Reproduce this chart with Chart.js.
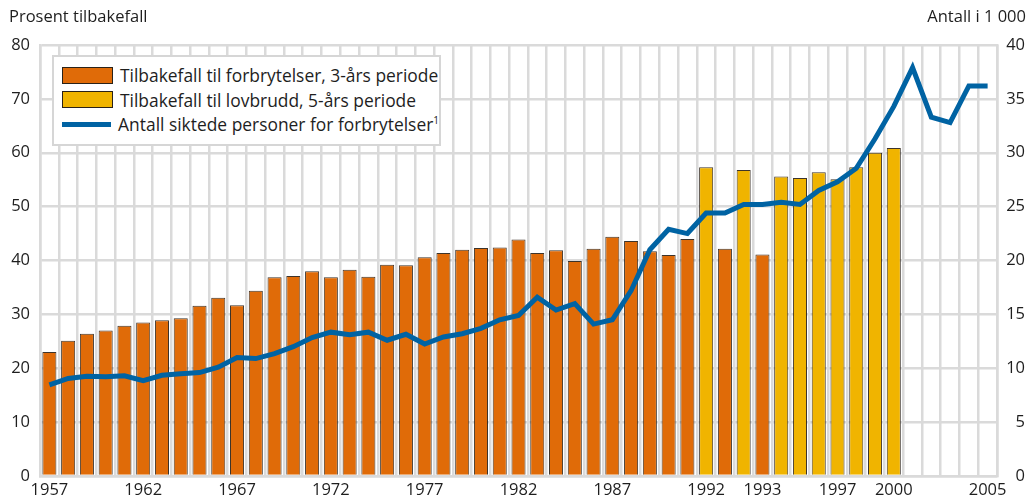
<!DOCTYPE html>
<html lang="no">
<head>
<meta charset="utf-8">
<title>Tilbakefall og siktede personer</title>
<script src="https://cdn.jsdelivr.net/npm/chart.js@4.4.1/dist/chart.umd.min.js"></script>
<style>
    body { margin: 0; background: #fff; font-family: "Open Sans", sans-serif; color: #1e1e1e; }
    .wrap { position: relative; width: 1035px; height: 500px; }
    .axis-title { position: absolute; top: 6px; font-size: 16.5px; line-height: 20px; white-space: nowrap; }
    #title-left { left: 9px; }
    #title-right { right: 9px; }
    .legend {
        position: absolute; left: 52px; top: 55px; width: 385px; height: 81px;
        border: 2px solid #d6d6d6; background: #fff; padding-top: 6px; box-sizing: content-box;
    }
    .legend-row { display: flex; align-items: center; height: 24.5px; font-size: 17.4px; white-space: nowrap; }
    .swatch { width: 51px; height: 17px; margin: 0 7px 0 8px; box-sizing: border-box; border: 1px solid #2a2218; }
    .swatch.line { height: 5px; border: none; }
    sup { font-size: 10px; vertical-align: 7px; line-height: 0; }
</style>
</head>
<body>
<div class="wrap">
    <canvas id="chart" width="1035" height="500"></canvas>
    <div class="axis-title" id="title-left">Prosent tilbakefall</div>
    <div class="axis-title" id="title-right">Antall i 1 000</div>
    <div class="legend" id="legend"></div>
</div>
<script>
// --- DATA ---
// one slot per bar position; 1992 and 1993 each have two slots (5-year and 3-year)
const xLabels = [
    '1957', '', '', '', '', '1962', '', '', '', '', '1967', '', '', '', '', '1972', '', '',
    '', '', '1977', '', '', '', '', '1982', '', '', '', '', '1987', '', '', '', '',
    '1992', '', '', '1993', '', '', '', '1997', '', '', '2000', '', '', '', '', '2005'
];

// Tilbakefall til forbrytelser, 3-års periode (prosent)
const reoffend3yr = [
    23.0, 25.1, 26.4, 27.0, 27.9, 28.5, 28.9, 29.3, 31.6, 33.1, 31.7, 34.4, 36.9, 37.1,
    38.0, 36.9, 38.3, 37.0, 39.2, 39.1, 40.6, 41.4, 42.0, 42.3, 42.4, 43.9, 41.4, 41.9,
    39.9, 42.2, 44.4, 43.6, 41.7, 41.0, 44.0, null, 42.2, null, 41.1, null, null, null,
    null, null, null, null, null, null, null, null, null
];

// Tilbakefall til lovbrudd, 5-års periode (prosent)
const reoffend5yr = [
    null, null, null, null, null, null, null, null, null, null, null, null, null, null,
    null, null, null, null, null, null, null, null, null, null, null, null, null, null,
    null, null, null, null, null, null, null, 57.3, null, 56.8, null, 55.6, 55.3, 56.4,
    55.1, 57.3, 60.0, 60.9, null, null, null, null, null
];

// Antall siktede personer for forbrytelser (i 1 000)
const charged = [
    8.45, 9.05, 9.25, 9.2, 9.3, 8.85, 9.35, 9.5, 9.6, 10.1, 11.0, 10.9, 11.35, 12.0,
    12.85, 13.35, 13.1, 13.35, 12.6, 13.15, 12.25, 12.9, 13.2, 13.7, 14.5, 14.9, 16.6,
    15.4, 16.0, 14.1, 14.5, 17.2, 21.0, 22.9, 22.5, 24.4, 24.4, 25.2, 25.2, 25.4, 25.2,
    26.5, 27.3, 28.55, 31.3, 34.3, 37.9, 33.3, 32.8, 36.2, 36.2
];

const seriesNames = [
    'Tilbakefall til forbrytelser, 3-års periode',
    'Tilbakefall til lovbrudd, 5-års periode',
    'Antall siktede personer for forbrytelser'
];

// --- STYLE ---
const orange = '#e06b08';
const yellow = '#f0b400';
const blue = '#0063a3';
const gridColor = '#dadada';
const textColor = '#1e1e1e';
const tickFont = { family: '"Open Sans", sans-serif', size: 16.5 };

// --- CHART ---
const ctx = document.getElementById('chart').getContext('2d');
const myChart = new Chart(ctx, {
    type: 'bar',
    data: {
        labels: xLabels,
        datasets: [
            {
                type: 'line',
                label: seriesNames[2],
                data: charged,
                yAxisID: 'y2',
                borderColor: blue,
                borderWidth: 5,
                pointRadius: 0,
                tension: 0,
                order: 0
            },
            {
                label: seriesNames[0],
                data: reoffend3yr,
                yAxisID: 'y',
                backgroundColor: orange,
                borderColor: 'rgba(40, 30, 20, 0.9)',
                borderWidth: 1,
                grouped: false,
                barPercentage: 0.75,
                categoryPercentage: 1,
                order: 1
            },
            {
                label: seriesNames[1],
                data: reoffend5yr,
                yAxisID: 'y',
                backgroundColor: yellow,
                borderColor: 'rgba(40, 30, 20, 0.9)',
                borderWidth: 1,
                grouped: false,
                barPercentage: 0.75,
                categoryPercentage: 1,
                order: 2
            }
        ]
    },
    options: {
        responsive: false,
        animation: false,
        devicePixelRatio: 1,
        layout: { padding: { left: 0, right: 10, top: 45, bottom: 0 } },
        plugins: {
            legend: { display: false },
            tooltip: { enabled: false }
        },
        scales: {
            x: {
                offset: true,
                grid: { offset: true, color: gridColor, lineWidth: 2.5, drawTicks: false },
                border: { color: gridColor, width: 2.5 },
                ticks: { autoSkip: false, maxRotation: 0, minRotation: 0, padding: 4, color: textColor, font: tickFont },
                afterFit: (scale) => { scale.height = 24; }
            },
            y: {
                position: 'left',
                min: 0,
                max: 80,
                grid: { color: gridColor, lineWidth: 2.5, drawTicks: false },
                border: { color: gridColor, width: 2.5 },
                ticks: { stepSize: 10, padding: 10, color: textColor, font: tickFont },
                afterFit: (scale) => { scale.width = 40; }
            },
            y2: {
                position: 'right',
                min: 0,
                max: 40,
                grid: { display: false, drawTicks: false },
                border: { color: gridColor, width: 2.5 },
                ticks: { stepSize: 5, crossAlign: 'far', color: textColor, font: tickFont },
                afterFit: (scale) => { scale.width = 28; }
            }
        }
    }
});

// --- LEGEND (inside the plot, top left) ---
const legendDiv = document.getElementById('legend');
const legendOrder = [1, 2, 0];
legendOrder.forEach((dsIndex) => {
    const ds = myChart.data.datasets[dsIndex];
    const row = document.createElement('div');
    row.className = 'legend-row';
    const swatch = document.createElement('span');
    if (ds.type === 'line') {
        swatch.className = 'swatch line';
        swatch.style.background = ds.borderColor;
    } else {
        swatch.className = 'swatch';
        swatch.style.background = ds.backgroundColor;
    }
    const text = document.createElement('span');
    text.innerHTML = ds.label + (ds.type === 'line' ? '<sup>1</sup>' : '');
    row.appendChild(swatch);
    row.appendChild(text);
    legendDiv.appendChild(row);
});
</script>
</body>
</html>
